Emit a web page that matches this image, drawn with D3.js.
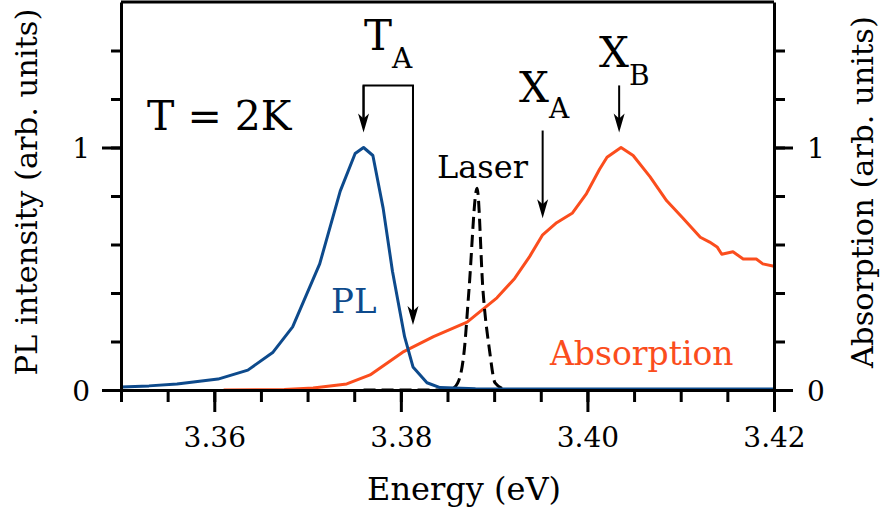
<!DOCTYPE html>
<html>
<head>
<meta charset="utf-8">
<script src="https://cdn.jsdelivr.net/npm/d3@7"></script>
<style>
body { margin: 0; background: #fff; }
</style>
</head>
<body>
<div id="vis"></div>
<script>
// PL spectrum (blue)
var plEnergy    = [3.350, 3.353, 3.356, 3.3604, 3.3636, 3.3663, 3.3684, 3.3713, 3.3735, 3.3751, 3.3760, 3.3770, 3.3781, 3.3791, 3.3804, 3.3813, 3.3828, 3.3842, 3.388, 3.395, 3.405, 3.420];
var plIntensity = [0.012, 0.017, 0.025, 0.045, 0.082, 0.156, 0.26, 0.52, 0.82, 0.975, 1.0, 0.967, 0.75, 0.49, 0.22, 0.095, 0.03, 0.01, 0.005, 0.004, 0.004, 0.004];

// absorption spectrum (orange)
var absEnergy = [3.361, 3.3675, 3.3706, 3.3742, 3.3767, 3.3802, 3.3835, 3.3871, 3.3903, 3.3922, 3.3938, 3.3952, 3.3967, 3.3984, 3.3999, 3.4013, 3.4021, 3.4036, 3.4049, 3.4067, 3.4085, 3.4102, 3.4121, 3.4131, 3.4139, 3.4144, 3.4156, 3.4167, 3.4181, 3.4188, 3.4200];
var absValue  = [0.0, 0.002, 0.008, 0.025, 0.062, 0.156, 0.22, 0.28, 0.38, 0.46, 0.55, 0.64, 0.69, 0.73, 0.81, 0.91, 0.96, 1.0, 0.967, 0.88, 0.78, 0.71, 0.63, 0.61, 0.59, 0.56, 0.57, 0.54, 0.54, 0.52, 0.51];

// laser line (dashed)
var laserEnergy = [3.376, 3.384, 3.3855, 3.3861, 3.3868, 3.3873, 3.38817, 3.3888, 3.3895, 3.3901, 3.391, 3.392, 3.398];
var laserValue  = [0.0, 0.0, 0.005, 0.029, 0.165, 0.412, 0.832, 0.412, 0.165, 0.029, 0.005, 0.0, 0.0];

var xMajorTicks = [3.36, 3.38, 3.40, 3.42];
var yLabelTicks = [0, 1];

var margin = {top: 2, right: 110, bottom: 126, left: 121},
	width = 884 - margin.left - margin.right,
	height = 516 - margin.top - margin.bottom;

var blue = "#0d4a8c", orange = "#fb4d1d";
var serif = "DejaVu Serif";

var x = d3.scaleLinear().domain([3.35, 3.42]).range([0, width]);
var y = d3.scaleLinear().domain([0, 1.6]).range([height, 0]);

var svg = d3.select("#vis").append("svg")
	.attr("width", 884)
	.attr("height", 516)
	.attr("font-family", serif)
.append("g")
	.attr("transform", "translate(" + margin.left + "," + margin.top + ")");

function series(xs, ys) {
	return xs.map(function(d, i) { return [d, ys[i]]; });
}
var line = d3.line()
	.x(function(d) { return x(d[0]); })
	.y(function(d) { return y(d[1]); });
var smooth = d3.line()
	.curve(d3.curveMonotoneX)
	.x(function(d) { return x(d[0]); })
	.y(function(d) { return y(d[1]); });

svg.append("path")
	.attr("d", line(series(absEnergy, absValue)))
	.attr("fill", "none").attr("stroke", orange).attr("stroke-width", 3).attr("stroke-linejoin", "round");
svg.append("path")
	.attr("d", smooth(series(laserEnergy, laserValue)))
	.attr("fill", "none").attr("stroke", "#000").attr("stroke-width", 3)
	.attr("stroke-dasharray", "12,6");
svg.append("path")
	.attr("d", line(series(plEnergy, plIntensity)))
	.attr("fill", "none").attr("stroke", blue).attr("stroke-width", 3).attr("stroke-linejoin", "round");

// axes
var xMinor = d3.range(3.35, 3.4201, 0.005);
var yMinor = d3.range(0, 1.41, 0.2);

function styleAxis(g) {
	g.attr("font-family", serif).attr("font-size", 28);
	g.selectAll("path, line").attr("stroke", "#000").attr("stroke-width", 3);
	g.selectAll("text").attr("fill", "#000");
}

svg.append("g")
	.attr("transform", "translate(0," + height + ")")
	.call(d3.axisBottom(x).tickValues(xMinor).tickSize(12).tickSizeOuter(0).tickFormat(""))
	.call(styleAxis);
var xAx = svg.append("g")
	.attr("transform", "translate(0," + height + ")")
	.call(d3.axisBottom(x).tickValues(xMajorTicks).tickSize(22).tickSizeOuter(0).tickFormat(d3.format(".2f")))
	.call(styleAxis);
xAx.select(".domain").remove();
xAx.selectAll("text").attr("y", 57).attr("dy", 0);

//left axis
svg.append("g")
	.call(d3.axisLeft(y).tickValues(yMinor).tickSize(10).tickSizeOuter(0).tickFormat(""))
	.call(styleAxis);
var yAx = svg.append("g")
	.call(d3.axisLeft(y).tickValues(yLabelTicks).tickSize(19).tickSizeOuter(0).tickFormat(d3.format("d")))
	.call(styleAxis);
yAx.select(".domain").remove();
yAx.selectAll("text").attr("x", -31).attr("dy", "0.36em");

//right axis
svg.append("g")
	.attr("transform", "translate(" + width + ",0)")
	.call(d3.axisRight(y).tickValues(yMinor).tickSize(11).tickSizeOuter(0).tickFormat(""))
	.call(styleAxis);
var y2Ax = svg.append("g")
	.attr("transform", "translate(" + width + ",0)")
	.call(d3.axisRight(y).tickValues(yLabelTicks).tickSize(19).tickSizeOuter(0).tickFormat(d3.format("d")))
	.call(styleAxis);
y2Ax.select(".domain").remove();
y2Ax.selectAll("text").attr("x", 33).attr("dy", "0.36em");

// top frame
svg.append("line")
	.attr("x1", 0).attr("x2", width).attr("y1", 0).attr("y2", 0)
	.attr("stroke", "#000").attr("stroke-width", 3);

function label(px, py, size, txt, color) {
	return svg.append("text")
		.attr("x", px - margin.left).attr("y", py - margin.top)
		.attr("font-family", serif).attr("font-size", size)
		.attr("fill", color || "#000")
		.text(txt);
}

// axis titles
label(464, 500, 32, "Energy (eV)").attr("text-anchor", "middle");
label(0, 0, 30.5, "PL intensity (arb. units)")
	.attr("x", null).attr("y", null)
	.attr("transform", "translate(" + (37 - margin.left) + "," + (192 - margin.top) + ") rotate(-90)")
	.attr("text-anchor", "middle");
label(0, 0, 30.5, "Absorption (arb. units)")
	.attr("x", null).attr("y", null)
	.attr("transform", "translate(" + (873 - margin.left) + "," + (192 - margin.top) + ") rotate(-90)")
	.attr("text-anchor", "middle");

// labels
label(147, 130, 41, "T = 2K");
label(331, 313, 34, "PL", blue);
label(550, 365, 33, "Absorption", orange);
label(437, 178, 32, "Laser");

function subLabel(px, py, main, sub, subDy) {
	var t = label(px, py, 42, "");
	t.append("tspan").text(main);
	t.append("tspan").attr("dy", subDy).attr("font-size", 28).text(sub);
}
subLabel(364, 50, "T", "A", 18);
subLabel(519, 102, "X", "A", 16);
subLabel(599, 67, "X", "B", 18);

// arrows
function arrowDown(e, v0, v1) {
	var ax = x(e), y0 = y(v0), y1 = y(v1);
	svg.append("line").attr("x1", ax).attr("x2", ax).attr("y1", y0).attr("y2", y1 - 6)
		.attr("stroke", "#000").attr("stroke-width", 2);
	svg.append("path")
		.attr("d", "M" + ax + "," + y1 + " L" + (ax - 5.5) + "," + (y1 - 19) + " L" + ax + "," + (y1 - 14) + " L" + (ax + 5.5) + "," + (y1 - 19) + " Z")
		.attr("fill", "#000");
}
// T_A bracket
svg.append("path")
	.attr("d", "M" + x(3.3760) + "," + y(1.12) + " V" + y(1.256) + " H" + x(3.3813) + " V" + y(0.30))
	.attr("fill", "none").attr("stroke", "#000").attr("stroke-width", 2);
arrowDown(3.3760, 1.256, 1.062);
arrowDown(3.3813, 1.256, 0.268);
arrowDown(3.3952, 1.07, 0.708);
arrowDown(3.4034, 1.256, 1.062);
</script>
</body>
</html>
